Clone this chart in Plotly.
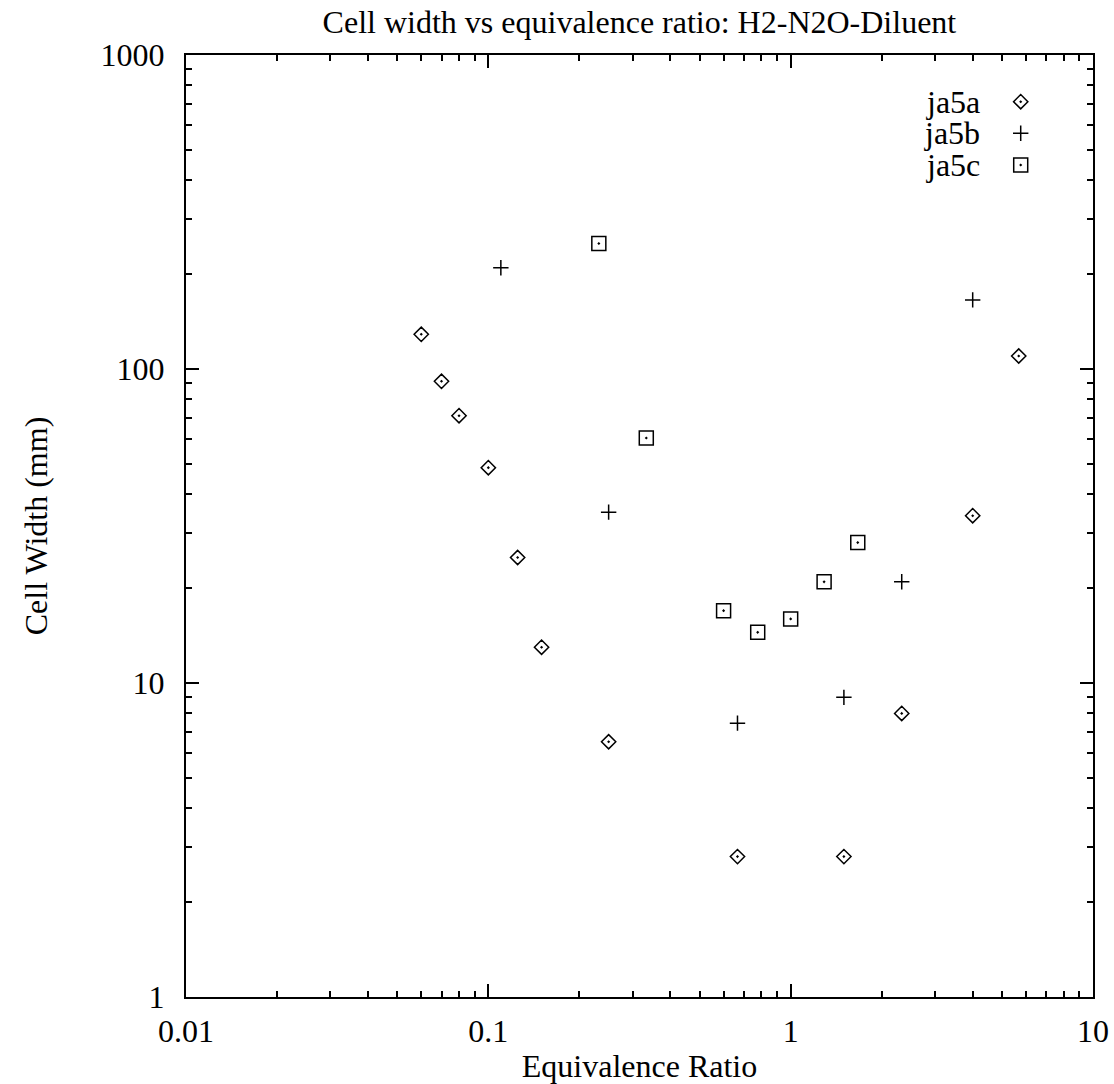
import plotly.graph_objects as go

# ---- data ----
ja5a_x = [0.06, 0.07, 0.08, 0.1, 0.125, 0.15, 0.25, 0.667, 1.5, 2.33, 4.0, 5.68]
ja5a_y = [129, 91.4, 71, 48.5, 25.1, 13.0, 6.5, 2.8, 2.8, 8.0, 34.1, 110]
ja5b_x = [0.11, 0.25, 0.667, 1.5, 2.33, 4.0]
ja5b_y = [210, 35.0, 7.45, 9.0, 21.0, 166]
ja5c_x = [0.232, 0.333, 0.6, 0.778, 1.0, 1.29, 1.667]
ja5c_y = [251, 60.3, 17.0, 14.5, 16.0, 21.0, 28.0]

series_names = ["ja5a", "ja5b", "ja5c"]
x_tickvals = [0.01, 0.1, 1, 10]
x_ticktext = ["0.01", "0.1", "1", "10"]
y_tickvals = [1, 10, 100, 1000]
y_ticktext = ["1", "10", "100", "1000"]
x_minor = [m * d for d in [0.01, 0.1, 1] for m in range(2, 10)]
y_minor = [m * d for d in [1, 10, 100] for m in range(2, 10)]

FONT = "Liberation Serif, Times New Roman, serif"
FS = 32

styles = [
    dict(symbol="diamond-open-dot", size=11, color="black", line=dict(width=1.5, color="black")),
    dict(symbol="cross-thin", size=11, color="black", line=dict(width=1.5, color="black")),
    dict(symbol="square-open-dot", size=14, color="black", line=dict(width=1.5, color="black")),
]

fig = go.Figure()
for name, xs, ys, st in zip(series_names, [ja5a_x, ja5b_x, ja5c_x], [ja5a_y, ja5b_y, ja5c_y], styles):
    fig.add_trace(go.Scatter(x=xs, y=ys, mode="markers", name=name, marker=st,
                             showlegend=False, xaxis="x", yaxis="y"))

# manual legend (text left of symbol, gnuplot style)
leg_x_sym = 0.9203
leg_x_txt = 0.8774
leg_ys = [0.9504, 0.9169, 0.8832]
for name, st, ly in zip(series_names, styles, leg_ys):
    fig.add_trace(go.Scatter(x=[leg_x_sym], y=[ly], mode="markers", marker=st,
                             showlegend=False, xaxis="x2", yaxis="y2", hoverinfo="skip"))
    fig.add_annotation(x=leg_x_txt, y=ly, xref="paper", yref="paper", text=name,
                       showarrow=False, xanchor="right", yanchor="middle",
                       font=dict(family=FONT, size=FS, color="black"))

axis_common = dict(
    showline=True, linecolor="black", linewidth=2, mirror="ticks",
    ticks="inside", ticklen=13, tickwidth=1.5, tickcolor="black",
    showgrid=False, zeroline=False, automargin=False,
    tickfont=dict(family=FONT, size=FS, color="black"),
)

fig.update_layout(
    width=1114, height=1084,
    margin=dict(l=186, r=21, t=55, b=87),
    paper_bgcolor="white", plot_bgcolor="white",
    font=dict(family=FONT, size=FS, color="black"),
    title=dict(text="Cell width vs equivalence ratio: H2-N2O-Diluent",
               x=0.574, xanchor="center", y=1 - 22 / 1084, yanchor="middle",
               yref="container", font=dict(family=FONT, size=FS, color="black")),
    xaxis=dict(type="log", range=[-2, 1], tickvals=x_tickvals, ticktext=x_ticktext,
               ticklabelstandoff=5,
               minor=dict(tickvals=x_minor, ticks="inside", ticklen=6, tickwidth=1.5,
                          tickcolor="black", showgrid=False),
               title=dict(text="Equivalence Ratio", font=dict(family=FONT, size=FS), standoff=11),
               **axis_common),
    yaxis=dict(type="log", range=[0, 3], tickvals=y_tickvals, ticktext=y_ticktext,
               ticklabelstandoff=13,
               minor=dict(tickvals=y_minor, ticks="inside", ticklen=6, tickwidth=1.5,
                          tickcolor="black", showgrid=False),
               title=dict(text="Cell Width (mm)", font=dict(family=FONT, size=FS), standoff=43),
               **axis_common),
    xaxis2=dict(range=[0, 1], overlaying="x", visible=False, fixedrange=True),
    yaxis2=dict(range=[0, 1], overlaying="y", visible=False, fixedrange=True),
    showlegend=False,
)

fig.write_html("out.html")
